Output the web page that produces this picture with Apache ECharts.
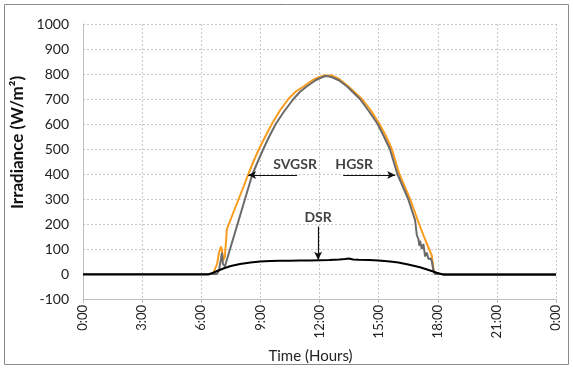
<!DOCTYPE html>
<html lang="en">
<head>
    <meta charset="UTF-8">
    <title>Irradiance</title>
    <script src="https://cdn.jsdelivr.net/npm/echarts@6.0.0/dist/echarts.min.js"></script>
    <style>
        html, body { margin: 0; padding: 0; background: #fff; }
    </style>
</head>
<body>
    <div id="main" style="width: 573px;height:369px;"></div>
    <script type="text/javascript">
        // [hour, W/m2]
        const svgsr = [
            [0, 0], [6.6, 0], [6.7, 5], [6.8, 40], [6.9, 85], [7.0, 110], [7.05, 95], [7.12, 55], [7.2, 70],
            [7.3, 179], [7.6, 240], [7.9, 300], [8.15, 350], [8.39, 400], [8.65, 450], [8.93, 500], [9.25, 550],
            [9.58, 600], [10.0, 655], [10.42, 700], [10.8, 730], [11.19, 750], [11.6, 773], [11.9, 785],
            [12.1, 790], [12.25, 795], [12.35, 787], [12.45, 793], [12.6, 795], [12.8, 787], [13.0, 780],
            [13.47, 750], [14.15, 700], [14.6, 655], [15.04, 600], [15.35, 555], [15.67, 500], [16.05, 400],
            [16.6, 299], [17.1, 190], [17.4, 130], [17.7, 73], [17.75, 40], [17.8, 10], [17.85, 0], [24, 0]
        ];
        const hgsr = [
            [0, 0], [6.8, 0], [6.9, 15], [7.0, 60], [7.05, 85], [7.1, 40], [7.2, 30], [7.5, 110], [7.9, 215],
            [8.2, 295], [8.6, 400], [8.9, 455], [9.15, 500], [9.45, 550], [9.78, 600], [10.2, 650], [10.68, 700],
            [11.0, 728], [11.35, 750], [11.8, 775], [12.1, 786], [12.3, 792], [12.4, 786], [12.5, 790],
            [12.7, 785], [13.0, 774], [13.4, 750], [14.05, 700], [14.5, 652], [14.95, 600], [15.25, 553],
            [15.57, 500], [15.95, 400], [16.5, 300], [16.85, 215], [16.94, 155], [17.02, 139], [17.07, 113],
            [17.1, 133], [17.19, 100], [17.27, 120], [17.36, 70], [17.44, 86], [17.53, 60], [17.65, 62],
            [17.7, 50], [17.78, 15], [17.85, 0], [24, 0]
        ];
        const dsr = [
            [0, -2], [6.35, -2], [6.6, 5], [6.9, 15], [7.12, 22], [7.5, 32], [7.97, 40], [8.5, 46], [8.98, 50],
            [9.5, 52], [10, 53], [10.5, 53], [11, 54], [11.5, 54], [12, 55], [12.5, 56], [13, 58], [13.3, 60],
            [13.5, 62], [13.7, 58], [14, 57], [14.5, 56], [15, 54], [15.58, 50], [16, 46], [16.5, 38],
            [17.1, 27], [17.5, 17], [17.95, 5], [18.3, -3], [24, -3]
        ];

        // annotation labels and arrows, in data units
        const labels = [[10.76, 438, 'SVGSR'], [13.76, 438, 'HGSR'], [11.93, 227, 'DSR']];
        const arrows = [
            [[10.86, 396], [8.38, 396]],
            [[13.2, 396], [15.84, 396]],
            [[11.93, 190], [11.93, 57]]
        ];

        const font = 'Lato, "Open Sans", sans-serif';

        let myChart = echarts.init(document.getElementById('main'));

        let options = {
            animation: false,
            textStyle: { fontFamily: font },
            graphic: [{
                type: 'rect',
                shape: { x: 4.5, y: 4.5, width: 564, height: 360 },
                style: { fill: 'none', stroke: '#8a8a8a', lineWidth: 1 },
                silent: true
            }],
            grid: { left: 83, right: 17, top: 24, bottom: 69 },
            xAxis: {
                type: 'value',
                min: 0,
                max: 24,
                interval: 3,
                name: 'Time (Hours)',
                nameLocation: 'middle',
                nameGap: 50,
                nameTextStyle: { fontSize: 15, color: '#222', fontFamily: font, padding: [0, 18, 0, 0] },
                axisLine: { onZero: false, lineStyle: { color: '#bfbfbf' } },
                axisTick: { show: true, length: 4, lineStyle: { color: '#bfbfbf' } },
                axisLabel: {
                    rotate: 90,
                    fontSize: 13,
                    color: '#222',
                    margin: 6,
                    formatter: (v) => (v % 24) + ':00'
                },
                splitLine: { show: true, lineStyle: { color: '#c8c8c8', type: [2, 2] } }
            },
            yAxis: {
                type: 'value',
                min: -100,
                max: 1000,
                interval: 100,
                name: 'Irradiance (W/m²)',
                nameLocation: 'middle',
                nameGap: 53,
                nameTextStyle: {
                    fontSize: 17, fontWeight: 'bold', color: '#111', fontFamily: font,
                    padding: [0, 0, 0, 38]
                },
                axisLine: { show: true, lineStyle: { color: '#bfbfbf' } },
                axisTick: { show: false },
                axisLabel: { fontSize: 14, color: '#222', margin: 14, formatter: (v) => String(v) },
                splitLine: { show: true, lineStyle: { color: '#c8c8c8', type: [2, 2] } }
            },
            series: [
                {
                    name: 'SVGSR',
                    type: 'line',
                    data: svgsr,
                    showSymbol: false,
                    lineStyle: { color: '#F99B1C', width: 2 },
                    itemStyle: { color: '#F99B1C' },
                    z: 2
                },
                {
                    name: 'HGSR',
                    type: 'line',
                    data: hgsr,
                    showSymbol: false,
                    lineStyle: { color: '#6b6b6b', width: 2 },
                    itemStyle: { color: '#6b6b6b' },
                    z: 3
                },
                {
                    name: 'DSR',
                    type: 'line',
                    data: dsr,
                    showSymbol: false,
                    lineStyle: { color: '#000', width: 2 },
                    itemStyle: { color: '#000' },
                    z: 4,
                    markLine: {
                        silent: true,
                        symbol: ['none', 'arrow'],
                        symbolSize: [6, 8],
                        label: { show: false },
                        lineStyle: { color: '#111', width: 1.2, type: 'solid' },
                        data: arrows.map(a => [{ coord: a[0] }, { coord: a[1] }])
                    }
                },
                {
                    name: 'labels',
                    type: 'scatter',
                    data: labels,
                    symbolSize: 0,
                    silent: true,
                    z: 5,
                    label: {
                        show: true,
                        position: 'inside',
                        formatter: (p) => p.value[2],
                        fontSize: 14,
                        fontWeight: 'bold',
                        color: '#111',
                        fontFamily: font
                    }
                }
            ]
        };

        myChart.setOption(options);
    </script>
</body>
</html>
